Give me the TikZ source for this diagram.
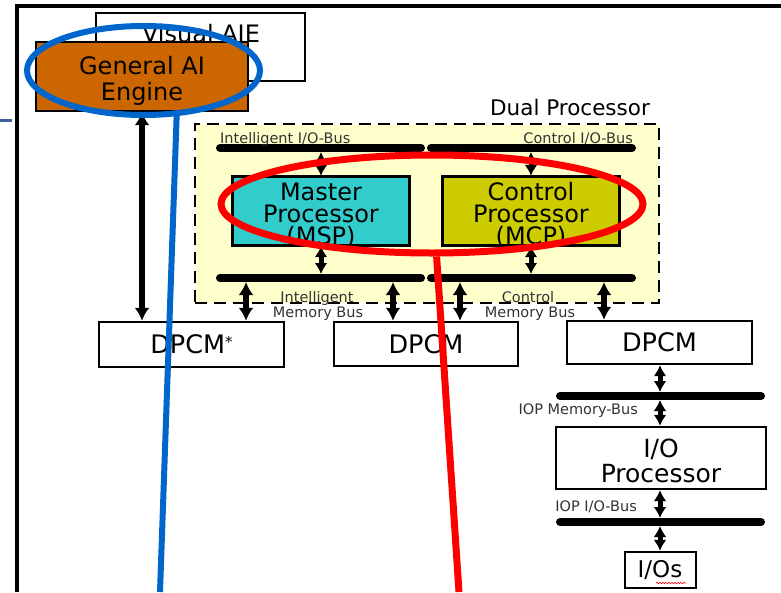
\documentclass[tikz,border=0pt]{standalone}
\usepackage{fontspec}
\setmainfont{DejaVu Sans}
\usetikzlibrary{arrows.meta,shapes.geometric,decorations.pathmorphing}

\definecolor{engineorange}{HTML}{CC6600}
\definecolor{mspcyan}{HTML}{33CCCC}
\definecolor{mcpolive}{HTML}{CCCC00}
\definecolor{dualfill}{HTML}{FFFFCC}
\definecolor{ringblue}{HTML}{0066CC}
\definecolor{ringred}{HTML}{FF0000}
\definecolor{labelgray}{HTML}{333333}
\definecolor{tickblue}{HTML}{4060A0}

\newcommand{\fsz}[2]{\fontsize{#1}{#2}\selectfont}

\begin{document}
\begin{tikzpicture}[x=1pt,y=-1pt,
  box/.style={draw=black, line width=2.4pt, inner sep=0pt, align=center},
  busbar/.style={line width=8pt, line cap=round},
  dbl/.style={line width=5.5pt, {Latex[length=13pt,width=15pt]}-{Latex[length=13pt,width=15pt]}},
  sdbl/.style={line width=5pt, {Latex[length=11pt,width=13pt]}-{Latex[length=11pt,width=13pt]}},
  buslabel/.style={text=labelgray, font=\fsz{14.5}{16}, inner sep=0pt},
  ring/.style={ellipse, draw, inner sep=0pt}
]
\useasboundingbox (0,0) rectangle (781,592);

% outer frame and left tick
\draw[line width=3.4pt] (17,592) -- (17,6) -- (781,6);
\draw[tickblue, line width=3pt] (0,120) -- (12,120);

% Visual AIE and General AI Engine
\node[box, minimum width=209pt, minimum height=68pt, fill=white] (vaie) at (200.5,47) {};
\node[anchor=base, inner sep=0pt, font=\fsz{24}{26}] (vaietxt) at (201,42) {Visual AIE};
\node[box, fill=engineorange, minimum width=212pt, minimum height=69pt] (gaie) at (142,76.5) {};
\node[anchor=base, inner sep=0pt, font=\fsz{24}{26}] (gaie1) at (142,74) {General AI};
\node[anchor=base, inner sep=0pt, font=\fsz{24}{26}] (gaie2) at (142,100) {Engine};

% Dual processor region
\node[draw=black, fill=dualfill, line width=2.8pt, dash pattern=on 12pt off 7pt,
      minimum width=464pt, minimum height=179pt, inner sep=0pt] (dual) at (427,213.5) {};
\node[anchor=base, inner sep=0pt, font=\fsz{21.5}{23}] (dualtxt) at (570,115) {Dual Processor};

% buses inside the dual processor
\coordinate (iioL) at (220,148); \coordinate (iioR) at (421,148);
\coordinate (cioL) at (431,148); \coordinate (cioR) at (632,148);
\coordinate (imbL) at (220,278); \coordinate (imbR) at (421,278);
\coordinate (cmbL) at (431,278); \coordinate (cmbR) at (632,278);
\draw[busbar] (iioL) -- (iioR);
\draw[busbar] (cioL) -- (cioR);
\draw[busbar] (imbL) -- (imbR);
\draw[busbar] (cmbL) -- (cmbR);
\node[buslabel, anchor=base west] (iiotxt) at (220,143) {Intelligent I/O-Bus};
\node[buslabel, anchor=base east] (ciotxt) at (633,143) {Control I/O-Bus};
\node[buslabel, anchor=base] (imb1) at (317,302) {Intelligent};
\node[buslabel, anchor=base] (imb2) at (318,317) {Memory Bus};
\node[buslabel, anchor=base] (cmb1) at (528,302) {Control};
\node[buslabel, anchor=base] (cmb2) at (530,317) {Memory Bus};

% processors (labels clipped to their boxes)
\node[box, fill=mspcyan, minimum width=176pt, minimum height=68pt] (msp) at (321,211) {};
\node[box, fill=mcpolive, minimum width=176pt, minimum height=68pt] (mcp) at (531,211) {};
\begin{scope}
  \clip (msp.south west) rectangle (msp.north east);
  \node[anchor=base, inner sep=0pt, font=\fsz{24}{22}] (msp1) at (321,200) {Master};
  \node[anchor=base, inner sep=0pt, font=\fsz{24}{22}] (msp2) at (321,222) {Processor};
  \node[anchor=base, inner sep=0pt, font=\fsz{24}{22}] (msp3) at (321,244) {(MSP)};
\end{scope}
\begin{scope}
  \clip (mcp.south west) rectangle (mcp.north east);
  \node[anchor=base, inner sep=0pt, font=\fsz{24}{22}] (mcp1) at (531,200) {Control};
  \node[anchor=base, inner sep=0pt, font=\fsz{24}{22}] (mcp2) at (531,222) {Processor};
  \node[anchor=base, inner sep=0pt, font=\fsz{24}{22}] (mcp3) at (531,244) {(MCP)};
\end{scope}
\draw[line width=2.4pt] (msp.south west) rectangle (msp.north east);
\draw[line width=2.4pt] (mcp.south west) rectangle (mcp.north east);

\draw[sdbl, shorten <=4pt] (msp.north |- iioL) -- (msp.north);
\draw[sdbl, shorten <=4pt] (mcp.north |- cioL) -- (mcp.north);
\draw[sdbl, shorten >=4pt] (msp.south) -- (msp.south |- imbL);
\draw[sdbl, shorten >=4pt] (mcp.south) -- (mcp.south |- cmbL);

% memory modules
\node[box, minimum width=185pt, minimum height=45pt, font=\fsz{25.5}{27}] (dpcmA) at (191.5,344.5)
  {DPCM\raisebox{6pt}{\fsz{15}{15}*}};
\node[box, minimum width=184pt, minimum height=44pt, font=\fsz{25.5}{27}] (dpcmB) at (426,344) {DPCM};
\node[box, minimum width=185pt, minimum height=43pt, font=\fsz{25.5}{27}] (dpcmC) at (659.5,342.5) {DPCM};

\draw[dbl] (gaie.south) -- (gaie.south |- dpcmA.north);
\draw[dbl, shorten <=4pt] (246,278) coordinate (imbA) -- (imbA |- dpcmA.north);
\draw[dbl, shorten <=4pt] (393,278) coordinate (imbB) -- (imbB |- dpcmB.north);
\draw[dbl, shorten <=4pt] (460,278) coordinate (cmbB) -- (cmbB |- dpcmB.north);
\draw[dbl, shorten <=4pt] (604,278) coordinate (cmbC) -- (cmbC |- dpcmC.north);

% I/O processor column
\coordinate (iopmL) at (560,396); \coordinate (iopmR) at (761,396);
\coordinate (iopiL) at (560,522); \coordinate (iopiR) at (761,522);
\draw[busbar] (iopmL) -- (iopmR);
\draw[busbar] (iopiL) -- (iopiR);
\node[buslabel, anchor=base east] (iopmtxt) at (638,414) {IOP Memory-Bus};
\node[buslabel, anchor=base east] (iopitxt) at (637,511) {IOP I/O-Bus};

\node[box, minimum width=210pt, minimum height=62pt] (iop) at (661,458) {};
\node[anchor=base, inner sep=0pt, font=\fsz{25}{27}] (iop1) at (661,457) {I/O};
\node[anchor=base, inner sep=0pt, font=\fsz{25}{27}] (iop2) at (661,482) {Processor};
\node[box, minimum width=71pt, minimum height=36pt] (ios) at (660.5,570) {};
\node[anchor=base, inner sep=0pt, font=\fsz{23}{24}] (iostxt) at (660,577) {I/Os};
\draw[ringred, line width=0.6pt, decorate, decoration={snake, amplitude=0.8pt, segment length=3pt}]
  (656,583) -- (686,583);

\draw[sdbl, shorten >=4pt] (dpcmC.south -| 660,0) coordinate (dpC) -- (dpC |- iopmL);
\draw[sdbl, shorten <=4pt] (dpC |- iopmL) -- (dpC |- iop.north);
\draw[sdbl, shorten >=4pt] (dpC |- iop.south) -- (dpC |- iopiL);
\draw[sdbl, shorten <=4pt] (dpC |- iopiL) -- (dpC |- ios.north);

% highlight rings and pointers
\node[ring, draw=ringblue, line width=6pt, minimum width=233pt, minimum height=89pt] (bluering) at (143.5,70.5) {};
\coordinate (blueend) at (160,592);
\draw[ringblue, line width=6pt] (bluering.-54) -- (blueend);
\node[ring, draw=ringred, line width=7pt, minimum width=422pt, minimum height=98pt] (redring) at (432,204) {};
\coordinate (redend) at (459,592);
\draw[ringred, line width=7pt] (redring.-85) -- (redend);
\end{tikzpicture}
\end{document}
